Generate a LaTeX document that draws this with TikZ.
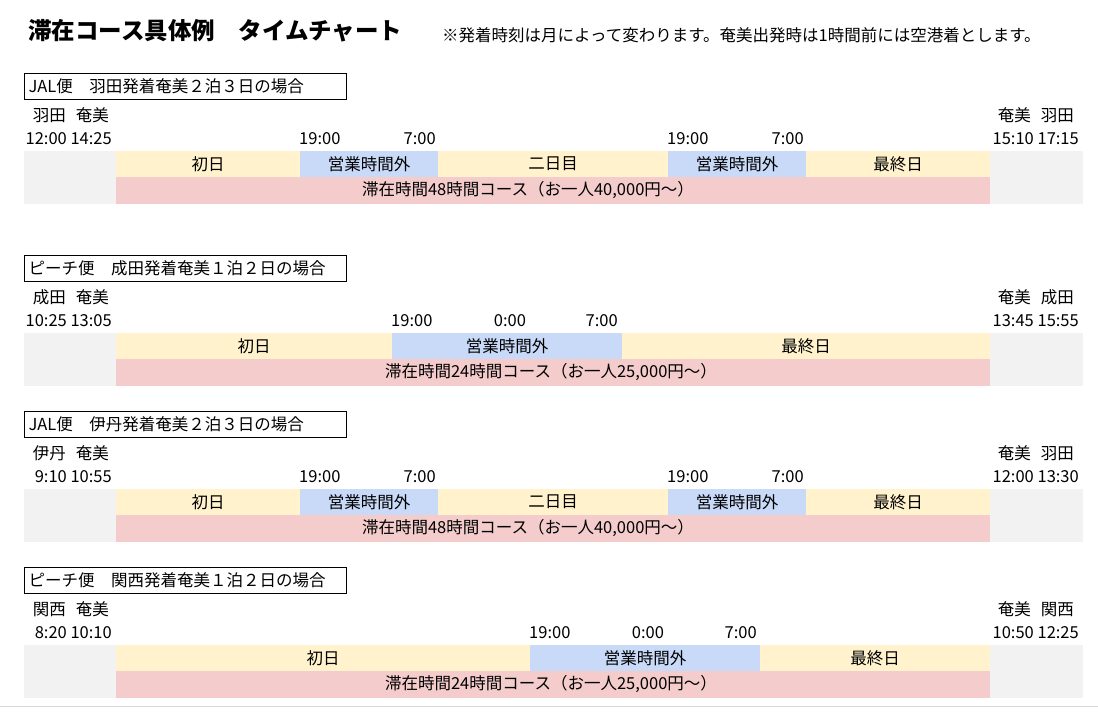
\documentclass[tikz,border=0pt]{standalone}
\usepackage{fontspec}
\setmainfont{Noto Sans CJK JP}
\usetikzlibrary{positioning}

\definecolor{daycol}{HTML}{FFF2CC}
\definecolor{offcol}{HTML}{C9DAF8}
\definecolor{staycol}{HTML}{F4CCCC}
\definecolor{sidecol}{HTML}{F2F2F2}
\definecolor{rulecol}{HTML}{D9D9D9}

\begin{document}
\begin{tikzpicture}[x=1pt, y=-1pt,
        txt/.style={inner sep=0, font=\fontsize{16.5}{19}\selectfont},
        cell/.style={txt, minimum height=26, outer sep=0},
        routebox/.style={txt, draw, line width=1pt, anchor=north west, text width=314pt,
                         inner xsep=4pt, minimum height=26, align=left}]
    \useasboundingbox (0,0) rectangle (1098,719);

    \node[anchor=west, inner sep=0, font=\fontsize{23.5}{27}\selectfont\bfseries] (chart) at (28,31) {滞在コース具体例　タイムチャート};
    \node[txt, anchor=west] (note) at (442,35) {※発着時刻は月によって変わります。奄美出発時は1時間前には空港着とします。};

    \begin{scope}[shift={(0,73)}]
        \node[routebox] (hnd) at (24,0) {JAL便　羽田発着奄美２泊３日の場合};
        \node[txt, anchor=east] (hndfrom) at (109,42) {羽田\hspace{0.6em}奄美};
        \node[txt, anchor=east] (hndto) at (1074,42) {奄美\hspace{0.6em}羽田};
        \node[txt, anchor=east] (hnddep) at (112,66) {12:00 14:25};
        \node[txt, anchor=east] (hndarr) at (1079,66) {15:10 17:15};
        \fill[sidecol] (24,78) rectangle (116,131);
        \fill[sidecol] (990,78) rectangle (1083,131);
        \foreach \lft/\rgt/\col/\lbl [count=\i] in {116/300/daycol/初日, 300/438/offcol/営業時間外, 438/668/daycol/二日目, 668/806/offcol/営業時間外, 806/990/daycol/最終日}
            \node[cell, fill=\col, minimum width={\rgt-\lft}] (hndday\i) at ({(\lft+\rgt)/2},91) {\lbl};
        \fill[staycol] (116,104) rectangle (990,131);
        \node[txt] (hndstay) at (528,117.5) {滞在時間48時間コース（お一人40,000円～）};
        \node[txt, anchor=west] (hndclose1) at (299,66) {19:00};
        \node[txt, anchor=east] (hndopen1) at (436,66) {7:00};
        \node[txt, anchor=west] (hndclose2) at (667,66) {19:00};
        \node[txt, anchor=east] (hndopen2) at (804,66) {7:00};
    \end{scope}

    \begin{scope}[shift={(0,255)}]
        \node[routebox] (nrt) at (24,0) {ピーチ便　成田発着奄美１泊２日の場合};
        \node[txt, anchor=east] (nrtfrom) at (109,42) {成田\hspace{0.6em}奄美};
        \node[txt, anchor=east] (nrtto) at (1074,42) {奄美\hspace{0.6em}成田};
        \node[txt, anchor=east] (nrtdep) at (112,66) {10:25 13:05};
        \node[txt, anchor=east] (nrtarr) at (1079,66) {13:45 15:55};
        \fill[sidecol] (24,78) rectangle (116,131);
        \fill[sidecol] (990,78) rectangle (1083,131);
        \foreach \lft/\rgt/\col/\lbl [count=\i] in {116/392/daycol/初日, 392/622/offcol/営業時間外, 622/990/daycol/最終日}
            \node[cell, fill=\col, minimum width={\rgt-\lft}] (nrtday\i) at ({(\lft+\rgt)/2},91) {\lbl};
        \fill[staycol] (116,104) rectangle (990,131);
        \node[txt] (nrtstay) at (551,117.5) {滞在時間24時間コース（お一人25,000円～）};
        \node[txt, anchor=west] (nrtclose) at (391,66) {19:00};
        \node[txt] (nrtmid) at (510,66) {0:00};
        \node[txt, anchor=east] (nrtopen) at (618,66) {7:00};
    \end{scope}

    \begin{scope}[shift={(0,411)}]
        \node[routebox] (itm) at (24,0) {JAL便　伊丹発着奄美２泊３日の場合};
        \node[txt, anchor=east] (itmfrom) at (109,42) {伊丹\hspace{0.6em}奄美};
        \node[txt, anchor=east] (itmto) at (1074,42) {奄美\hspace{0.6em}羽田};
        \node[txt, anchor=east] (itmdep) at (112,66) {9:10 10:55};
        \node[txt, anchor=east] (itmarr) at (1079,66) {12:00 13:30};
        \fill[sidecol] (24,78) rectangle (116,131);
        \fill[sidecol] (990,78) rectangle (1083,131);
        \foreach \lft/\rgt/\col/\lbl [count=\i] in {116/300/daycol/初日, 300/438/offcol/営業時間外, 438/668/daycol/二日目, 668/806/offcol/営業時間外, 806/990/daycol/最終日}
            \node[cell, fill=\col, minimum width={\rgt-\lft}] (itmday\i) at ({(\lft+\rgt)/2},91) {\lbl};
        \fill[staycol] (116,104) rectangle (990,131);
        \node[txt] (itmstay) at (528,117.5) {滞在時間48時間コース（お一人40,000円～）};
        \node[txt, anchor=west] (itmclose1) at (299,66) {19:00};
        \node[txt, anchor=east] (itmopen1) at (436,66) {7:00};
        \node[txt, anchor=west] (itmclose2) at (667,66) {19:00};
        \node[txt, anchor=east] (itmopen2) at (804,66) {7:00};
    \end{scope}

    \begin{scope}[shift={(0,567)}]
        \node[routebox] (kix) at (24,0) {ピーチ便　関西発着奄美１泊２日の場合};
        \node[txt, anchor=east] (kixfrom) at (109,42) {関西\hspace{0.6em}奄美};
        \node[txt, anchor=east] (kixto) at (1074,42) {奄美\hspace{0.6em}関西};
        \node[txt, anchor=east] (kixdep) at (112,66) {8:20 10:10};
        \node[txt, anchor=east] (kixarr) at (1079,66) {10:50 12:25};
        \fill[sidecol] (24,78) rectangle (116,131);
        \fill[sidecol] (990,78) rectangle (1083,131);
        \foreach \lft/\rgt/\col/\lbl [count=\i] in {116/530/daycol/初日, 530/760/offcol/営業時間外, 760/990/daycol/最終日}
            \node[cell, fill=\col, minimum width={\rgt-\lft}] (kixday\i) at ({(\lft+\rgt)/2},91) {\lbl};
        \fill[staycol] (116,104) rectangle (990,131);
        \node[txt] (kixstay) at (551,117.5) {滞在時間24時間コース（お一人25,000円～）};
        \node[txt, anchor=west] (kixclose) at (529,66) {19:00};
        \node[txt] (kixmid) at (648,66) {0:00};
        \node[txt, anchor=east] (kixopen) at (757,66) {7:00};
    \end{scope}

    \draw[rulecol, line width=1pt] (0,706) -- (1098,706);
\end{tikzpicture}
\end{document}
